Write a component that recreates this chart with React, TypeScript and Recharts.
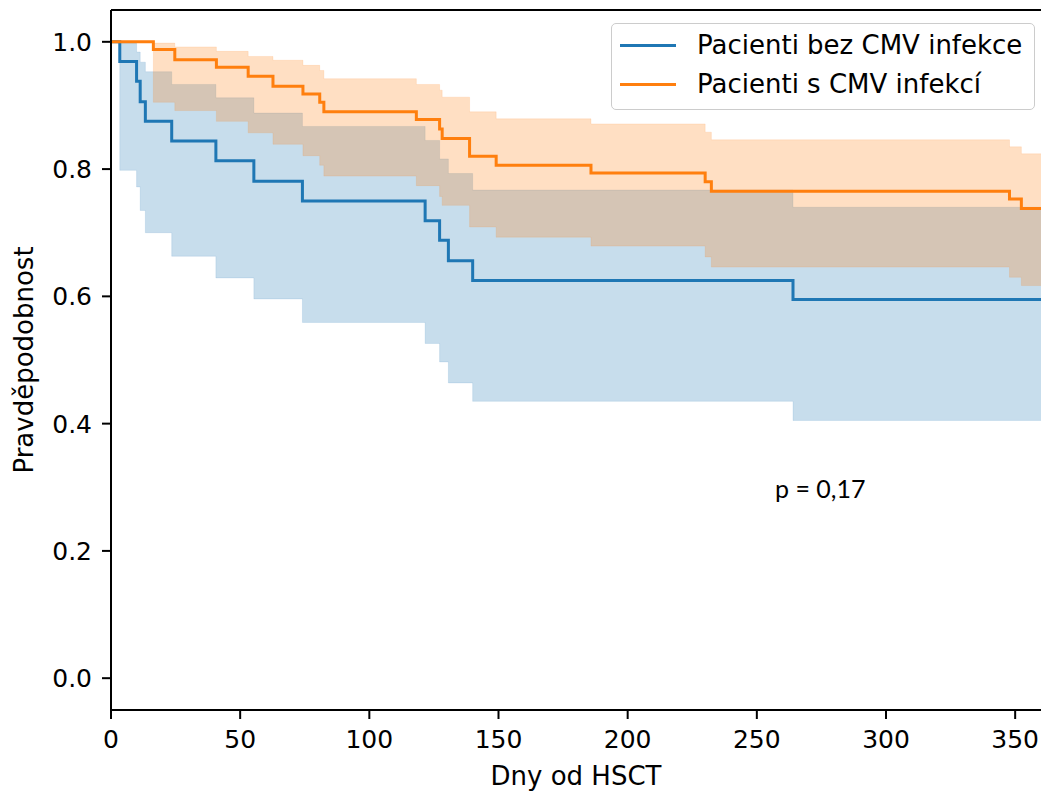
import { ComposedChart, Line, Area, XAxis, YAxis, Legend, ReferenceLine } from 'recharts';

// Kaplan-Meier estimate, patients without CMV infection
const blueTimes = [0, 3.4, 9.9, 11.3, 13.3, 23.5, 40.6, 55.3, 74.1, 121.6, 127.2, 130.6, 140, 264, 360];
const blueSurv = [1, 0.969, 0.938, 0.906, 0.875, 0.844, 0.813, 0.781, 0.75, 0.719, 0.688, 0.656, 0.625, 0.595, 0.595];
const blueLower = [1, 0.798, 0.772, 0.735, 0.7, 0.663, 0.629, 0.596, 0.559, 0.526, 0.497, 0.464, 0.435, 0.405, 0.405];
const blueUpper = [1, 0.998, 0.984, 0.968, 0.953, 0.933, 0.912, 0.888, 0.867, 0.845, 0.816, 0.793, 0.767, 0.74, 0.74];

// patients with CMV infection
const orangeTimes = [0, 16.4, 24.7, 40.8, 53.1, 62.7, 74.3, 80.8, 82.4, 118.2, 127.2, 128.2, 138.8, 149.1, 185.8, 230, 232.4, 347.8, 352.4, 360];
const orangeSurv = [1, 0.988, 0.972, 0.96, 0.946, 0.93, 0.918, 0.905, 0.89, 0.878, 0.863, 0.848, 0.82, 0.806, 0.794, 0.78, 0.765, 0.753, 0.738, 0.738];
const orangeLower = [1, 0.905, 0.892, 0.875, 0.857, 0.839, 0.821, 0.806, 0.789, 0.774, 0.757, 0.743, 0.709, 0.693, 0.679, 0.662, 0.646, 0.63, 0.617, 0.617];
const orangeUpper = [1, 0.998, 0.992, 0.985, 0.977, 0.971, 0.963, 0.955, 0.942, 0.933, 0.924, 0.913, 0.89, 0.879, 0.871, 0.858, 0.846, 0.835, 0.824, 0.824];

const xTicks = [0, 50, 100, 150, 200, 250, 300, 350];
const yTicks = [0, 0.2, 0.4, 0.6, 0.8, 1.0];

const BLUE = '#1f77b4';
const ORANGE = '#ff7f0e';
const FONT = '"DejaVu Sans", sans-serif';

const toRows = (times: number[], surv: number[], lower: number[], upper: number[]) =>
  times.map((t, i) => ({ t, s: surv[i], band: [lower[i], upper[i]] }));

const blueRows = toRows(blueTimes, blueSurv, blueLower, blueUpper);
const orangeRows = toRows(orangeTimes, orangeSurv, orangeLower, orangeUpper);

const tickStyle = { fontSize: 25, fontFamily: FONT, fill: '#000' };

const YTitle = () => (
  <text x={33} y={360} transform="rotate(-90, 33, 360)" textAnchor="middle"
    fontSize={26} fontFamily={FONT} fill="#000">Pravděpodobnost</text>
);

const XTitle = () => (
  <text x={576} y={785} textAnchor="middle" fontSize={26} fontFamily={FONT} fill="#000">Dny od HSCT</text>
);

const renderLegend = (props: any) => {
  const items = (props.payload || []).filter((p: any) => p.type !== 'none');
  return (
    <div style={{
      width: 424, height: 87, boxSizing: 'border-box', border: '1.5px solid #cccccc',
      borderRadius: 5, background: 'rgba(255,255,255,0.8)', position: 'relative', fontFamily: FONT,
    }}>
      {items.map((item: any, i: number) => (
        <div key={item.value} style={{ position: 'absolute', left: 0, top: 21 + i * 39 - 16, height: 32, width: '100%' }}>
          <div style={{ position: 'absolute', left: 8, top: 15, width: 56, height: 3, background: item.color }} />
          <span style={{ position: 'absolute', left: 85, top: 0, lineHeight: '32px', fontSize: 26, color: '#000', whiteSpace: 'nowrap' }}>
            {item.value}
          </span>
        </div>
      ))}
    </div>
  );
};

const App = () => {
  return (
    <div style={{ position: 'absolute', left: 0, top: 0, width: 1041, height: 794, background: '#fff' }}>
      <ComposedChart width={1041} height={794} margin={{ top: 10, right: 0, bottom: 0, left: 0 }}>
        <XAxis dataKey="t" type="number" domain={[0, 360]} ticks={xTicks} allowDataOverflow
          height={84} tickSize={9} tickMargin={11} tick={tickStyle}
          axisLine={{ stroke: '#000', strokeWidth: 2 }} tickLine={{ stroke: '#000', strokeWidth: 2 }}
          label={<XTitle />} />
        <YAxis type="number" domain={[-0.05, 1.05]} ticks={yTicks} allowDataOverflow
          width={111} tickSize={9} tickMargin={10} tick={tickStyle}
          tickFormatter={(v: number) => v.toFixed(1)}
          axisLine={{ stroke: '#000', strokeWidth: 2 }} tickLine={{ stroke: '#000', strokeWidth: 2 }}
          label={<YTitle />} />
        <ReferenceLine y={1.05} stroke="#000" strokeWidth={2} />
        <Area data={blueRows} dataKey="band" type="stepAfter" stroke={BLUE} strokeOpacity={0.12}
          fill={BLUE} fillOpacity={0.25} legendType="none" isAnimationActive={false} />
        <Line data={blueRows} dataKey="s" type="stepAfter" stroke={BLUE} strokeWidth={3} dot={false}
          name="Pacienti bez CMV infekce" isAnimationActive={false} />
        <Area data={orangeRows} dataKey="band" type="stepAfter" stroke={ORANGE} strokeOpacity={0.12}
          fill={ORANGE} fillOpacity={0.25} legendType="none" isAnimationActive={false} />
        <Line data={orangeRows} dataKey="s" type="stepAfter" stroke={ORANGE} strokeWidth={3} dot={false}
          name="Pacienti s CMV infekcí" isAnimationActive={false} />
        <Legend layout="vertical" align="center" verticalAlign="middle" content={renderLegend}
          wrapperStyle={{ left: 611, top: 23, width: 424, height: 87 }} />
      </ComposedChart>
      <div style={{ position: 'absolute', left: 775, top: 476, fontFamily: 'Lato, sans-serif', fontSize: 25, lineHeight: '25px', color: '#000' }}>
        p = 0,17
      </div>
    </div>
  );
};

export default App;
